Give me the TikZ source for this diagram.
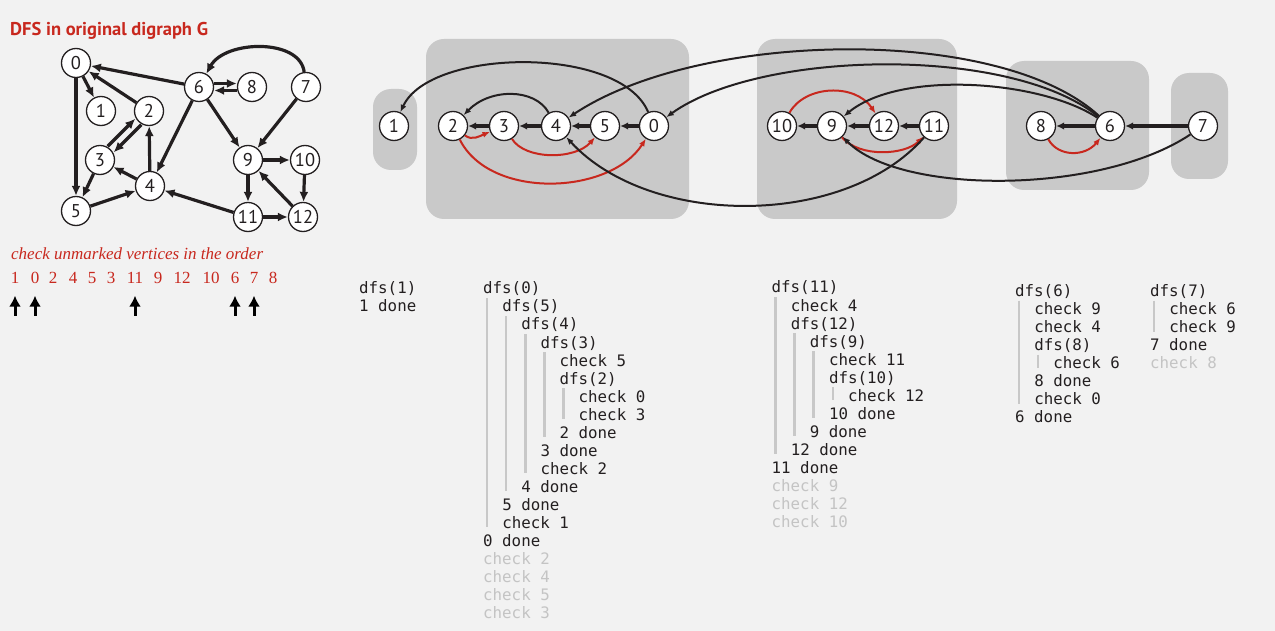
\documentclass[tikz,border=0pt]{standalone}
\usepackage{fontspec}
\newfontfamily\labelsans{PT Sans}
\newfontfamily\noteserif{Liberation Serif}
\setmonofont{DejaVu Sans Mono}
\usetikzlibrary{arrows.meta, calc}

\definecolor{ink}{HTML}{231F20}
\definecolor{dfsred}{HTML}{C8281E}
\definecolor{boxgray}{HTML}{C9C9C9}
\definecolor{paper}{HTML}{F2F2F2}
\definecolor{fadetext}{HTML}{C4C4C4}
\definecolor{trace}{HTML}{C8C8C8}

\tikzset{
  vtx/.style={circle, draw=ink, fill=white, line width=1.3pt, minimum size=29pt,
    inner sep=0pt, text=ink, font=\labelsans\fontsize{18.5}{18.5}\selectfont},
  gedge/.style={draw=ink, line width=3.2pt, -{Latex[length=10pt,width=9pt]}},
  sedge/.style={draw=ink, line width=3.2pt, -{Latex[length=8pt,width=7.5pt]}},
  cedge/.style={draw=ink, line width=2pt, -{Latex[length=7.5pt,width=6pt]}},
  redge/.style={draw=dfsred, line width=2pt, -{Latex[length=7.5pt,width=6pt]}},
  scc/.style={fill=boxgray, rounded corners=18pt},
  code/.style={anchor=base west, inner sep=0pt, text=ink,
    font=\ttfamily\fontsize{15.8}{18}\selectfont},
  codefade/.style={code, text=fadetext},
  callbar/.style={draw=trace, line width=2.6pt},
  order/.style={inner sep=0pt, text height=11pt, text depth=0pt, text=dfsred,
    font=\noteserif\fontsize{17}{17}\selectfont},
  uparrow/.style={draw=black, line width=3pt, -{Latex[length=11pt,width=12pt]}},
}

\begin{document}
\begin{tikzpicture}[x=1pt, y=-1pt]

    % 1. Page and title
    \fill[paper] (0,0) rectangle (1275,631);
    \useasboundingbox (0,0) rectangle (1275,631);
    \node[anchor=base west, inner sep=0pt, text=dfsred,
          font=\labelsans\bfseries\fontsize{18.5}{18.5}\selectfont] (title) at (10,36)
          {DFS in original digraph G};

    % 2. The digraph G
    \node[vtx] (L0) at (76,63) {0};
    \node[vtx] (L1) at (101,111) {1};
    \node[vtx] (L2) at (149,111) {2};
    \node[vtx] (L3) at (100,160) {3};
    \node[vtx] (L4) at (150,186) {4};
    \node[vtx] (L5) at (76,211) {5};
    \node[vtx] (L6) at (199,87) {6};
    \node[vtx] (L8) at (252,87) {8};
    \node[vtx] (L7) at (306,87) {7};
    \node[vtx] (L9) at (248,160) {9};
    \node[vtx] (L10) at (305,160) {10};
    \node[vtx] (L11) at (248,217) {11};
    \node[vtx] (L12) at (303,217) {12};

    \draw[gedge] (L0) -- (L1);
    \draw[gedge] (L0) -- (L5);
    \draw[gedge] (L2) -- (L0);
    \draw[gedge] ([shift={(-3pt,3pt)}]L3.45) -- ([shift={(-3pt,3pt)}]L2.225);
    \draw[gedge] ([shift={(3pt,-3pt)}]L2.225) -- ([shift={(3pt,-3pt)}]L3.45);
    \draw[gedge] (L3) -- (L5);
    \draw[gedge] (L4) -- (L2);
    \draw[gedge] (L4) -- (L3);
    \draw[gedge] (L5) -- (L4);
    \draw[gedge] (L6) -- (L0);
    \draw[gedge] ([yshift=3.5pt]L6.east) -- ([yshift=3.5pt]L8.west);
    \draw[gedge] ([yshift=-3.5pt]L8.west) -- ([yshift=-3.5pt]L6.east);
    \draw[gedge] (L6) -- (L4);
    \draw[gedge] (L6) -- (L9);
    \draw[gedge] (L7) .. controls (300,38) and (225,40) .. (L6);
    \draw[gedge] (L7) -- (L9);
    \draw[gedge] (L9) -- (L10);
    \draw[gedge] (L9) -- (L11);
    \draw[gedge] (L10) -- (L12);
    \draw[gedge] (L11) -- (L4);
    \draw[gedge] (L11) -- (L12);
    \draw[gedge] (L12) -- (L9);

    % 3. Order in which the vertices are checked
    \node[anchor=base west, inner sep=0pt, text=dfsred,
          font=\noteserif\itshape\fontsize{17}{17}\selectfont] (hint) at (11,260)
          {check unmarked vertices in the order};
    \foreach \v/\x in {1/15, 0/35, 2/53, 4/73, 5/92, 3/111, 11/135, 9/158,
                       12/182, 10/211, 6/235, 7/254, 8/273}
      \node[order] (o\v) at (\x,278) {\v};
    \foreach \v in {1,0,11,6,7}
      \draw[uparrow] ([yshift=-32pt]o\v.south) -- ([yshift=-12pt]o\v.south);

    % 4. Strong components, drawn as grey boxes
    \fill[scc] (373,89) rectangle (417,170);
    \fill[scc] (426,39) rectangle (689,219);
    \fill[scc] (757,39) rectangle (957,219);
    \fill[scc] (1006,61) rectangle (1149,190);
    \fill[scc] (1171,73) rectangle (1228,179);

    % 5. Vertices in the order the search finishes them
    \node[vtx] (R1) at (394,126) {1};
    \node[vtx] (R2) at (453,126) {2};
    \node[vtx] (R3) at (504,126) {3};
    \node[vtx] (R4) at (556,126) {4};
    \node[vtx] (R5) at (605,126) {5};
    \node[vtx] (R0) at (654,126) {0};
    \node[vtx] (R10) at (782,126) {10};
    \node[vtx] (R9) at (832,126) {9};
    \node[vtx] (R12) at (884,126) {12};
    \node[vtx] (R11) at (934,126) {11};
    \node[vtx] (R8) at (1041,126) {8};
    \node[vtx] (R6) at (1110,126) {6};
    \node[vtx] (R7) at (1203,126) {7};

    % tree edges
    \draw[sedge] (R0) -- (R5);
    \draw[sedge] (R5) -- (R4);
    \draw[sedge] (R4) -- (R3);
    \draw[sedge] (R3) -- (R2);
    \draw[sedge] (R9) -- (R10);
    \draw[sedge] (R12) -- (R9);
    \draw[sedge] (R11) -- (R12);
    \draw[sedge] (R6) -- (R8);
    \draw[sedge] (R7) -- (R6);

    % back edges (red)
    \draw[redge] (R2) .. controls (472,141) and (480,136) .. (R3);
    \draw[redge] (R3) .. controls (525,160) and (575,160) .. (R5);
    \draw[redge] (R2) .. controls (490,200) and (610,195) .. (R0);
    \draw[redge] (R10) .. controls (805,85) and (855,83) .. (R12);
    \draw[redge] (R9) .. controls (860,158) and (905,155) .. (R11);
    \draw[redge] (R8) .. controls (1058,157) and (1085,157) .. (R6);

    % other edges
    \draw[cedge] (R0) .. controls (620,45) and (430,48) .. (R1);
    \draw[cedge] (R4) .. controls (535,88) and (490,88) .. (R2);
    \draw[cedge] (R6) .. controls (1000,25) and (700,30) .. (R4);
    \draw[cedge] (R6) .. controls (1010,45) and (760,50) .. (R0);
    \draw[cedge] (R6) .. controls (1040,80) and (900,70) .. (R9);
    \draw[cedge] (R11) .. controls (845,228) and (650,228) .. (R4);
    \draw[cedge] (R7) .. controls (1100,195) and (900,195) .. (R9);

    % 6. Trace of the calls
    \node[code] (a1) at (359,294) {dfs(1)};
    \node[code] (a2) at (359,312) {1 done};

    \foreach \lv/\txt [count=\i] in {0/dfs(0), 1/dfs(5), 2/dfs(4), 3/dfs(3),
        4/check 5, 4/dfs(2), 5/check 0, 5/check 3, 4/2 done, 3/3 done,
        3/check 2, 2/4 done, 1/5 done, 1/check 1, 0/0 done}
      \node[code] (b\i) at ({483+19.1*\lv},{294+18*(\i-1)}) {\txt};
    \foreach \txt [count=\i from 16] in {check 2, check 4, check 5, check 3}
      \node[codefade] (b\i) at (483,{294+18*(\i-1)}) {\txt};
    \draw[callbar] (487,298) -- (487,527);
    \draw[callbar] (506.1,316) -- (506.1,491);
    \draw[callbar] (525.2,334) -- (525.2,473);
    \draw[callbar] (544.3,352) -- (544.3,437);
    \draw[callbar] (563.4,388) -- (563.4,419);

    \foreach \lv/\txt [count=\i] in {0/dfs(11), 1/check 4, 1/dfs(12), 2/dfs(9),
        3/check 11, 3/dfs(10), 4/check 12, 3/10 done, 2/9 done, 1/12 done,
        0/11 done}
      \node[code] (c\i) at ({771.5+19.1*\lv},{293+18*(\i-1)}) {\txt};
    \foreach \txt [count=\i from 12] in {check 9, check 12, check 10}
      \node[codefade] (c\i) at (771.5,{293+18*(\i-1)}) {\txt};
    \draw[callbar] (775.5,297) -- (775.5,454);
    \draw[callbar] (794.6,333) -- (794.6,436);
    \draw[callbar] (813.7,351) -- (813.7,418);
    \draw[callbar] (832.8,387) -- (832.8,400);

    \foreach \lv/\txt [count=\i] in {0/dfs(6), 1/check 9, 1/check 4, 1/dfs(8),
        2/check 6, 1/8 done, 1/check 0, 0/6 done}
      \node[code] (d\i) at ({1015+19.1*\lv},{296.5+18*(\i-1)}) {\txt};
    \draw[callbar] (1019,300.5) -- (1019,403.5);
    \draw[callbar] (1038.1,354.5) -- (1038.1,367.5);

    \foreach \lv/\txt [count=\i] in {0/dfs(7), 1/check 6, 1/check 9, 0/7 done}
      \node[code] (e\i) at ({1150+19.1*\lv},{296.5+18*(\i-1)}) {\txt};
    \node[codefade] (e5) at (1150,368.5) {check 8};
    \draw[callbar] (1154,300.5) -- (1154,331.5);

\end{tikzpicture}
\end{document}
